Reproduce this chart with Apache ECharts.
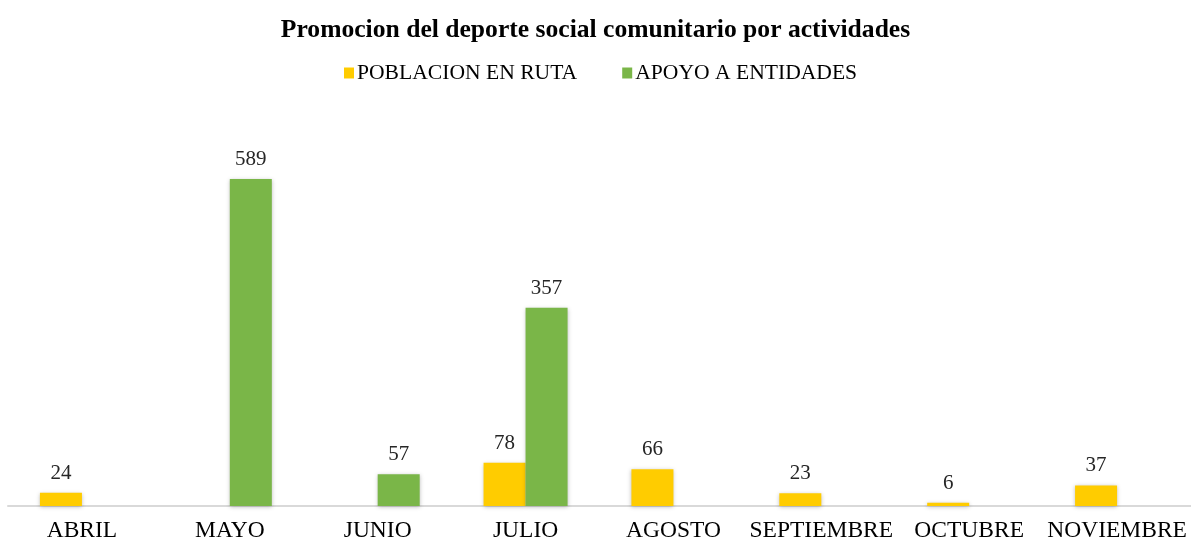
<!DOCTYPE html>
<html>
<head>
<meta charset="utf-8">
<script src="https://cdn.jsdelivr.net/npm/echarts@6/dist/echarts.min.js"></script>
<style>
  html, body { margin: 0; padding: 0; background: #fff; }
  #chart { width: 1191px; height: 543px; }
</style>
</head>
<body>
<div id="chart"></div>
<script>
  // datos
  var meses = ['ABRIL', 'MAYO', 'JUNIO', 'JULIO', 'AGOSTO', 'SEPTIEMBRE', 'OCTUBRE', 'NOVIEMBRE'];
  var poblacionRuta = [24, null, null, 78, 66, 23, 6, 37];
  var apoyoEntidades = [null, 589, 57, 357, null, null, null, null];

  var fuente = '"Liberation Serif", "Times New Roman", serif';
  var myChart = echarts.init(document.getElementById('chart'));

  var etiqueta = {
    show: true,
    position: 'top',
    distance: 9,
    color: '#262626',
    fontFamily: fuente,
    fontSize: 21
  };

  var option = {
    animation: false,
    backgroundColor: '#fff',
    title: {
      text: 'Promocion del deporte social comunitario por actividades',
      left: 'center',
      top: 12,
      textStyle: {
        fontFamily: fuente,
        fontWeight: 'bold',
        fontSize: 25.6,
        color: '#000'
      }
    },
    legend: {
      top: 57,
      left: 339,
      itemWidth: 10,
      itemHeight: 11,
      itemGap: 45,
      icon: 'rect',
      textStyle: {
        fontFamily: fuente,
        fontSize: 21.6,
        color: '#000',
        padding: [0, 0, 0, -2]
      },
      data: ['POBLACION EN RUTA', 'APOYO A ENTIDADES']
    },
    grid: {
      left: 8,
      right: 0,
      top: 173,
      bottom: 37,
      containLabel: false
    },
    xAxis: {
      type: 'category',
      data: meses,
      axisTick: { show: false },
      axisLine: { lineStyle: { color: '#d9d9d9', width: 2 } },
      axisLabel: {
        interval: 0,
        margin: 13,
        color: '#000',
        fontFamily: fuente,
        fontSize: 23.5
      }
    },
    yAxis: {
      type: 'value',
      min: 0,
      max: 600,
      show: false,
      splitLine: { show: false }
    },
    series: [{
      name: 'POBLACION EN RUTA',
      type: 'bar',
      barWidth: 42,
      barGap: '0%',
      itemStyle: {
        color: '#FFCC00',
        shadowColor: 'rgba(0,0,0,0.25)',
        shadowBlur: 4,
        shadowOffsetY: 1
      },
      label: etiqueta,
      data: poblacionRuta
    }, {
      name: 'APOYO A ENTIDADES',
      type: 'bar',
      barWidth: 42,
      barGap: '0%',
      itemStyle: {
        color: '#7AB648',
        shadowColor: 'rgba(0,0,0,0.25)',
        shadowBlur: 4,
        shadowOffsetY: 1
      },
      label: etiqueta,
      data: apoyoEntidades
    }]
  };
  myChart.setOption(option);
</script>
</body>
</html>
